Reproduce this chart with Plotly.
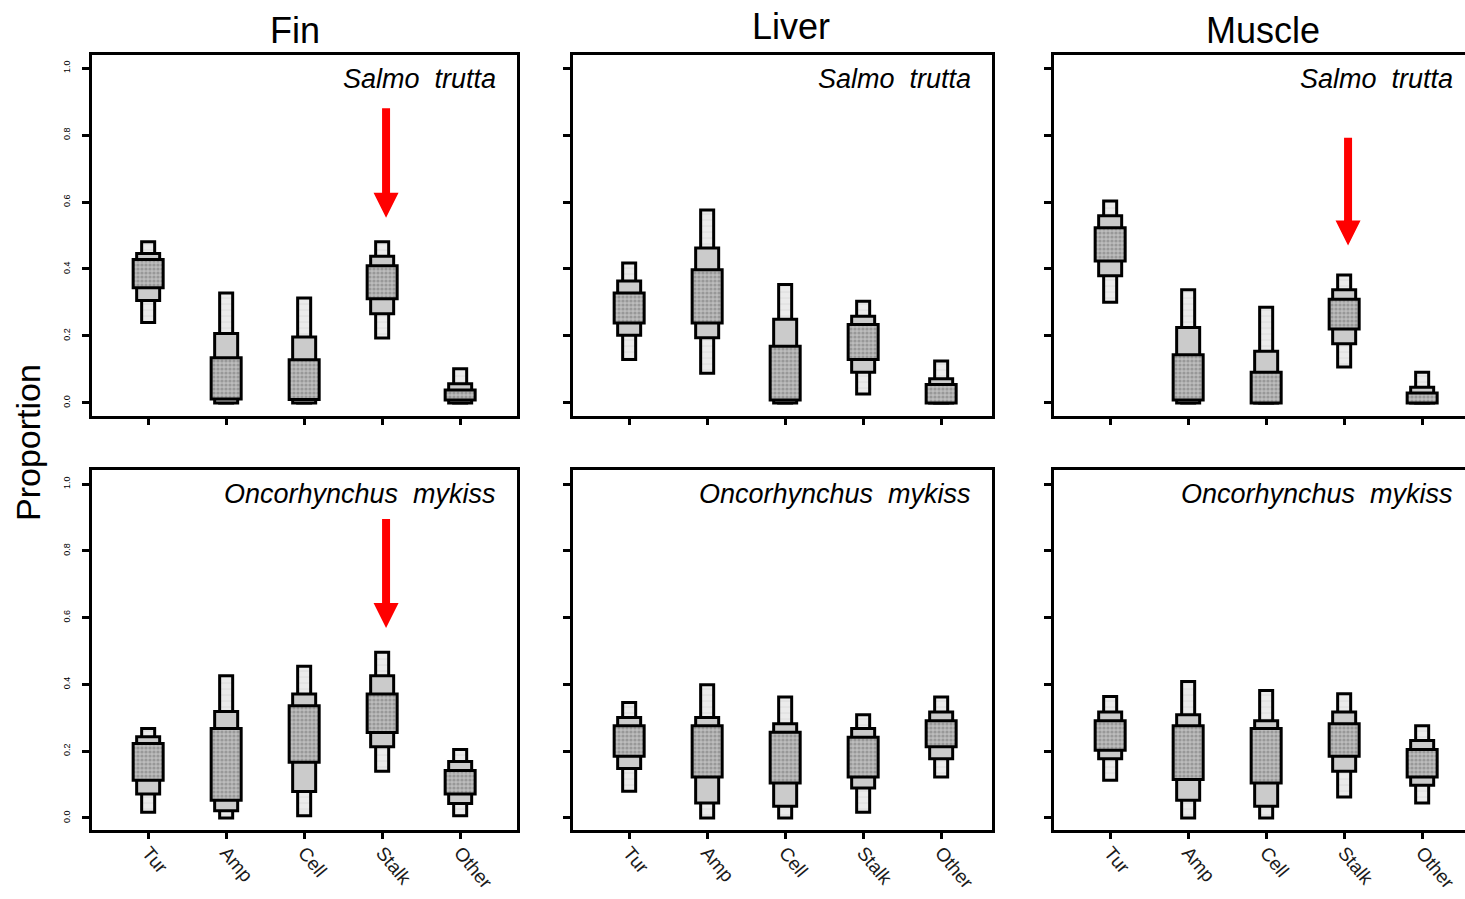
import plotly.graph_objects as go

W, H = 1465, 899

CATEGORIES = ["Tur", "Amp", "Cell", "Stalk", "Other"]
TISSUES = ["Fin", "Liver", "Muscle"]
SPECIES = ["Salmo  trutta", "Oncorhynchus  mykiss"]
Y_TICKS = [0.0, 0.2, 0.4, 0.6, 0.8, 1.0]
Y_TICK_TEXT = ["0.0", "0.2", "0.4", "0.6", "0.8", "1.0"]

# (low, high) bounds of the outer, middle and inner intervals, one pair per category
fin_trutta_outer = [(0.240, 0.481), (0.0, 0.328), (0.0, 0.313), (0.194, 0.481), (0.0, 0.102)]
fin_trutta_middle = [(0.306, 0.446), (0.0, 0.207), (0.0, 0.197), (0.266, 0.438), (0.0, 0.057)]
fin_trutta_inner = [(0.344, 0.428), (0.012, 0.135), (0.010, 0.129), (0.311, 0.410), (0.009, 0.039)]

liver_trutta_outer = [(0.130, 0.418), (0.089, 0.576), (0.0, 0.354), (0.027, 0.304), (0.0, 0.125)]
liver_trutta_middle = [(0.202, 0.364), (0.195, 0.463), (0.0, 0.250), (0.092, 0.259), (0.0, 0.072)]
liver_trutta_inner = [(0.239, 0.328), (0.239, 0.398), (0.009, 0.169), (0.130, 0.234), (0.0, 0.055)]

muscle_trutta_outer = [(0.301, 0.603), (0.0, 0.338), (0.0, 0.286), (0.107, 0.382), (0.0, 0.092)]
muscle_trutta_middle = [(0.380, 0.559), (0.0, 0.225), (0.0, 0.154), (0.177, 0.338), (0.0, 0.047)]
muscle_trutta_inner = [(0.424, 0.523), (0.009, 0.144), (0.0, 0.092), (0.221, 0.310), (0.0, 0.030)]

fin_mykiss_outer = [(0.017, 0.268), (0.0, 0.426), (0.007, 0.454), (0.140, 0.496), (0.007, 0.205)]
fin_mykiss_middle = [(0.072, 0.243), (0.022, 0.319), (0.079, 0.371), (0.213, 0.426), (0.043, 0.169)]
fin_mykiss_inner = [(0.113, 0.223), (0.053, 0.268), (0.167, 0.336), (0.256, 0.371), (0.072, 0.142)]

liver_mykiss_outer = [(0.080, 0.346), (0.0, 0.399), (0.0, 0.362), (0.017, 0.309), (0.123, 0.362)]
liver_mykiss_middle = [(0.148, 0.301), (0.045, 0.301), (0.035, 0.282), (0.090, 0.268), (0.177, 0.317)]
liver_mykiss_inner = [(0.185, 0.276), (0.123, 0.276), (0.105, 0.257), (0.123, 0.242), (0.213, 0.291)]

muscle_mykiss_outer = [(0.113, 0.364), (0.0, 0.409), (0.0, 0.382), (0.063, 0.372), (0.045, 0.276)]
muscle_mykiss_middle = [(0.177, 0.317), (0.053, 0.309), (0.035, 0.291), (0.140, 0.317), (0.098, 0.232)]
muscle_mykiss_inner = [(0.203, 0.291), (0.115, 0.276), (0.105, 0.268), (0.185, 0.282), (0.123, 0.205)]

PANELS = [
    [(fin_trutta_outer, fin_trutta_middle, fin_trutta_inner),
     (liver_trutta_outer, liver_trutta_middle, liver_trutta_inner),
     (muscle_trutta_outer, muscle_trutta_middle, muscle_trutta_inner)],
    [(fin_mykiss_outer, fin_mykiss_middle, fin_mykiss_inner),
     (liver_mykiss_outer, liver_mykiss_middle, liver_mykiss_inner),
     (muscle_mykiss_outer, muscle_mykiss_middle, muscle_mykiss_inner)],
]

# highlighted category: (row, column, category, arrow top, arrow tip)
ARROWS = [
    (0, 0, "Stalk", 0.880, 0.553),
    (0, 2, "Stalk", 0.792, 0.470),
    (1, 0, "Stalk", 0.895, 0.569),
]

# ---- layout geometry (pixels) ----
COL_PX = [(92, 517), (573, 992), (1054, 1465)]
ROW_PX = [(55, 416), (470, 830)]
Y_RANGES = [(-0.039, 1.039), (-0.036, 1.042)]
PX_PER_CAT = 78.0
X_START = 0.28

FONT = "Liberation Sans, Arial, sans-serif"

# interval styles: bar width (category units), fill and texture
LEVELS = [
    dict(width=0.167, bg="#ebebeb", fg="#dadada", shape="-", size=6, solidity=0.15),
    dict(width=0.295, bg="#cbcbcb", fg="#cbcbcb", shape="", size=8, solidity=0.2),
    dict(width=0.385, bg="#bdbdbd", fg="#989898", shape=".", size=4, solidity=0.5),
]

fig = go.Figure()
layout = dict(
    width=W, height=H,
    margin=dict(l=0, r=0, t=0, b=0, autoexpand=False),
    paper_bgcolor="white", plot_bgcolor="white",
    barmode="overlay", showlegend=False,
    font=dict(family=FONT, color="black"),
)
annotations = []
shapes = []

xpos = list(range(1, len(CATEGORIES) + 1))

for r in range(2):
    for c in range(3):
        k = r * 3 + c + 1
        xa = "x" if k == 1 else f"x{k}"
        ya = "y" if k == 1 else f"y{k}"
        for lvl, intervals in zip(LEVELS, PANELS[r][c]):
            lows = [lo for lo, hi in intervals]
            spans = [hi - lo for lo, hi in intervals]
            pattern = dict(shape=lvl["shape"], bgcolor=lvl["bg"], fgcolor=lvl["fg"],
                           size=lvl["size"], solidity=lvl["solidity"], fillmode="replace")
            fig.add_trace(go.Bar(
                x=xpos, y=spans, base=lows, width=lvl["width"],
                marker=dict(color=lvl["bg"], line=dict(color="black", width=3), pattern=pattern),
                xaxis=xa, yaxis=ya, hoverinfo="skip",
            ))

        x0, x1 = COL_PX[c]
        y0, y1 = ROW_PX[r]
        layout["xaxis" if k == 1 else f"xaxis{k}"] = dict(
            domain=[x0 / W, x1 / W],
            range=[X_START, X_START + (x1 - x0) / PX_PER_CAT],
            anchor=ya, automargin=False,
            tickvals=xpos, ticktext=CATEGORIES,
            showticklabels=(r == 1),
            tickangle=50,
            tickfont=dict(size=19, family=FONT, color="#1a1a1a"),
            ticklabelstandoff=-5,
            ticks="outside", ticklen=6, tickwidth=3, tickcolor="black",
            showline=True, linewidth=3, linecolor="black", mirror=True,
            showgrid=False, zeroline=False, fixedrange=True,
        )
        layout["yaxis" if k == 1 else f"yaxis{k}"] = dict(
            domain=[1 - y1 / H, 1 - y0 / H],
            range=list(Y_RANGES[r]),
            anchor=xa, automargin=False,
            tickvals=Y_TICKS, ticktext=Y_TICK_TEXT,
            showticklabels=(c == 0),
            tickangle=-90,
            tickfont=dict(size=9, family=FONT, color="black"),
            ticklabelstandoff=8,
            ticks="outside", ticklen=7, tickwidth=3, tickcolor="black",
            showline=True, linewidth=3, linecolor="black", mirror=(c != 2),
            showgrid=False, zeroline=False, fixedrange=True,
        )
        annotations.append(dict(
            text=f"<i>{SPECIES[r]}</i>", xref=f"{xa} domain", yref=f"{ya} domain",
            x=1, y=1, xanchor="right", yanchor="middle",
            xshift=-19 if c != 2 else -10, yshift=-24,
            showarrow=False, font=dict(size=27, family=FONT, color="black"),
        ))

# arrows pointing at the highlighted category
for r, c, cat, top, tip in ARROWS:
    k = r * 3 + c + 1
    xa = "x" if k == 1 else f"x{k}"
    ya = "y" if k == 1 else f"y{k}"
    xc = CATEGORIES.index(cat) + 1 + 0.05
    y_per_px = (Y_RANGES[r][1] - Y_RANGES[r][0]) / (ROW_PX[r][1] - ROW_PX[r][0])
    hh = 25 * y_per_px
    hw = 12.5 / PX_PER_CAT
    sw = 4 / PX_PER_CAT
    path = (f"M {xc - sw},{top} L {xc + sw},{top} L {xc + sw},{tip + hh} "
            f"L {xc + hw},{tip + hh} L {xc},{tip} L {xc - hw},{tip + hh} "
            f"L {xc - sw},{tip + hh} Z")
    shapes.append(dict(type="path", path=path, xref=xa, yref=ya,
                       fillcolor="#ff0000", line=dict(width=0), layer="above"))

# column titles
for name, px, py in [("Fin", 295, 31), ("Liver", 791, 26), ("Muscle", 1263, 31)]:
    annotations.append(dict(
        text=name, xref="paper", yref="paper", x=px / W, y=1 - py / H,
        xanchor="center", yanchor="middle", showarrow=False,
        font=dict(size=36, family=FONT, color="black"),
    ))

annotations.append(dict(
    text="Proportion", xref="paper", yref="paper", x=28 / W, y=1 - 443 / H,
    xanchor="center", yanchor="middle", textangle=-90, showarrow=False,
    font=dict(size=34, family=FONT, color="black"),
))

layout["annotations"] = annotations
layout["shapes"] = shapes
fig.update_layout(**layout)
fig.write_html("out.html")
